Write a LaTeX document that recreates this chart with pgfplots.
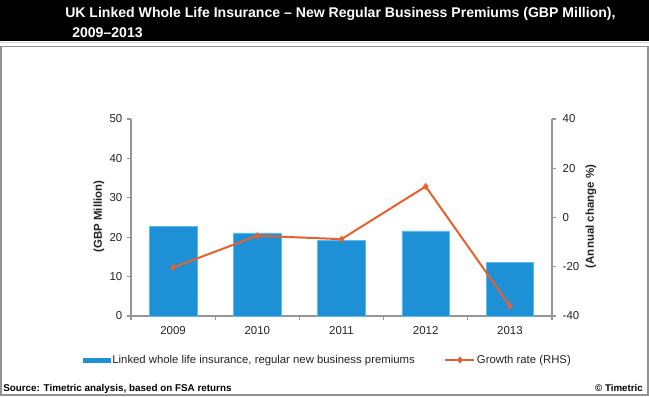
\documentclass[border=0pt]{standalone}
\usepackage{fontspec}
\setmainfont{Liberation Sans}
\usepackage{pgfplots}
\pgfplotsset{compat=1.18}
\definecolor{barblue}{RGB}{30,144,214}
\definecolor{baredge}{RGB}{95,185,235}
\definecolor{lineor}{RGB}{232,96,44}
\definecolor{axgray}{RGB}{150,150,150}
\definecolor{txt}{RGB}{35,35,35}
\pgfplotsset{
  mylinelegend/.style={legend image code/.code={\draw[##1, mark repeat=2, mark phase=2] plot coordinates {(0pt,0pt) (10.9pt,0pt) (21.75pt,0pt)};}},
  mybarlegend/.style={legend image code/.code={\fill[barblue] (0pt,-1.5pt) rectangle (20.25pt,1.5pt);}},
}
\begin{document}
\begin{tikzpicture}[x=0.75pt,y=0.75pt]
\useasboundingbox (0,0) rectangle (649,396);
\fill[black] (0,396) rectangle (649,355);
\draw[gray!35, line width=0.9pt] (0,353.2)--(649,353.2);
\draw[gray!85, line width=1.1pt] (1,349.5) rectangle (647.8,0.8);
\node[anchor=base west, text=white, font=\fontsize{10.55pt}{13pt}\selectfont\bfseries, inner sep=0pt] at (65,378) {UK Linked Whole Life Insurance – New Regular Business Premiums (GBP Million),};
\node[anchor=base west, text=white, font=\fontsize{10.55pt}{13pt}\selectfont\bfseries, inner sep=0pt] at (72,358) {2009–2013};

\pgfplotsset{
  common/.style={
    at={(98.25pt,60pt)}, anchor=south west,
    scale only axis, width=315.75pt, height=147.75pt,
    xmin=-0.5, xmax=4.5,
    axis line style={axgray, line width=0.8pt, -},
    tick align=outside, major tick length=3pt, minor tick length=3pt,
    tick style={axgray, line width=0.8pt},
    tick label style={font=\fontsize{8.6pt}{10pt}\selectfont, text=txt},
    /pgf/number format/assume math mode=true,
  }
}
\begin{axis}[common,
  ymin=0, ymax=50, ytick={0,10,...,50},
  axis x line*=bottom, axis y line*=left,
  xtick={0,...,4}, xticklabels={2009,2010,2011,2012,2013},
  major x tick style={draw=none},
  minor xtick={-0.5,0.5,...,4.5},
  xticklabel style={yshift=-1pt},
  ybar, bar width=35.6pt,
]
\addplot[fill=barblue, draw=baredge, line width=0.5pt] coordinates {(0,22.7) (1,21.1) (2,19.2) (3,21.6) (4,13.7)};
\end{axis}
\begin{axis}[common,
  ymin=-40, ymax=40, ytick={-40,-20,...,40},
  axis y line*=right, axis x line=none,
  yticklabel style={xshift=1.5pt},
  legend columns=2,
  legend style={at={(-0.114,-0.2234)}, anchor=west, draw=none, fill=none,
    inner sep=0pt, font=\fontsize{8.5pt}{10pt}\selectfont, text=txt,
    nodes={inner sep=1.2pt},
    /tikz/every even column/.append style={column sep=21pt}},
]
\addlegendimage{mybarlegend}
\addlegendentry{Linked whole life insurance, regular new business premiums}
\addplot[lineor, line width=1.5pt, mark=diamond*, mark size=2.3pt,
  mark options={fill=lineor, draw=lineor, line width=0.5pt}, mylinelegend]
  coordinates {(0,-20.3) (1,-7.4) (2,-8.8) (3,12.6) (4,-35.9)};
\addlegendentry{Growth rate (RHS)}
\end{axis}

\node[rotate=90, font=\fontsize{8.6pt}{10pt}\selectfont\bfseries, text=txt] at (99,179.5) {(GBP Million)};
\node[rotate=90, font=\fontsize{8.6pt}{10pt}\selectfont\bfseries, text=txt] at (591,179.5) {(Annual change \%)};
\node[anchor=base west, font=\fontsize{7.4pt}{9pt}\selectfont\bfseries, inner sep=0pt] at (3,5) {Source: Timetric analysis, based on FSA returns};
\node[anchor=base east, font=\fontsize{7.3pt}{9pt}\selectfont\bfseries, inner sep=0pt] at (643,5) {© Timetric};
\end{tikzpicture}
\end{document}
